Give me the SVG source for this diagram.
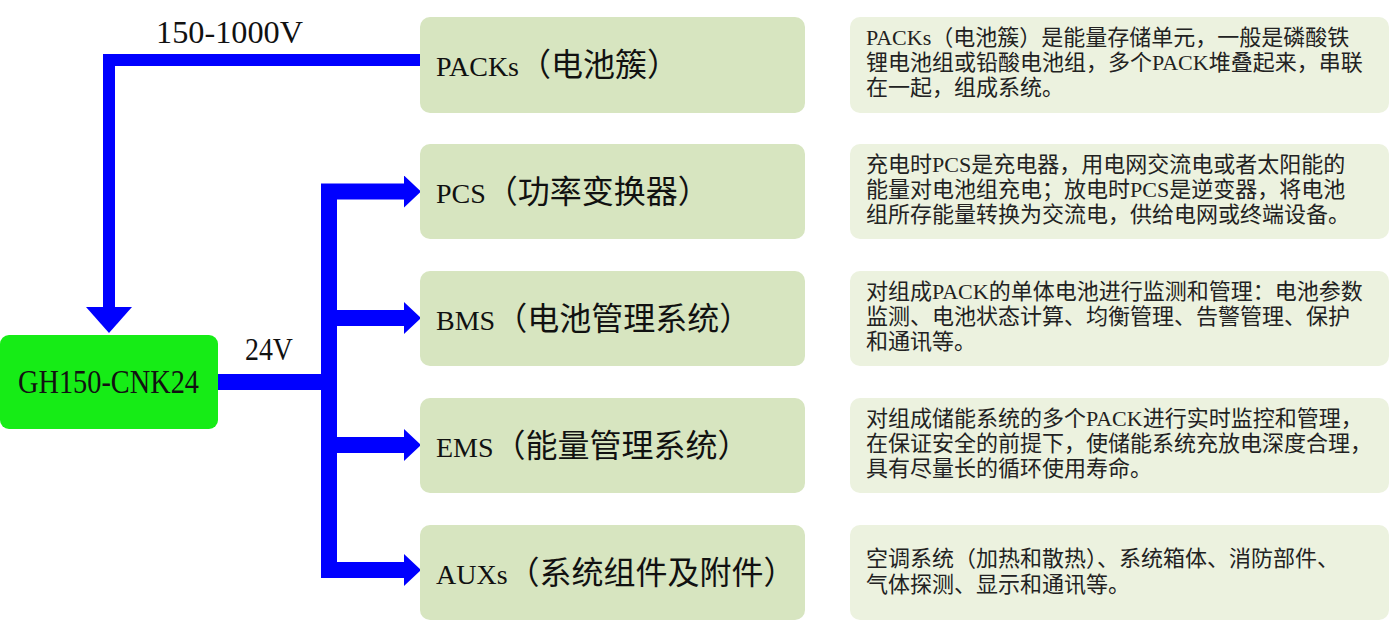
<svg xmlns="http://www.w3.org/2000/svg" width="1392" height="620" viewBox="0 0 1392 620">
<style>
  .lat { font-family: "Liberation Serif", "Noto Sans CJK SC", serif; fill: #111; }
  .mid { font-family: "Liberation Serif", "Noto Sans CJK SC", serif; font-size: 32px; fill: #111; }
  .ml { font-size: 28px; }
  .desc { font-family: "Liberation Serif", "Noto Sans CJK SC", serif; font-size: 22px; fill: #222; }
  .mbox { fill: #d7e5c0; }
  .dbox { fill: #ecf2df; }
  .wire { fill: none; stroke: #0000ff; stroke-linejoin: miter; stroke-linecap: butt; }
</style>
<defs>
  <marker id="arrR" markerUnits="userSpaceOnUse" viewBox="0 0 17 32" refX="0" refY="16" markerWidth="17" markerHeight="32" orient="auto">
    <path d="M0,0 L17,16 L0,32 Z" fill="#0000ff"/>
  </marker>
  <marker id="arrD" markerUnits="userSpaceOnUse" viewBox="0 0 26 46" refX="0" refY="23" markerWidth="26" markerHeight="46" orient="auto">
    <path d="M0,0 L26,23 L0,46 Z" fill="#0000ff"/>
  </marker>
</defs>

<g id="connectors">
  <path class="wire" stroke-width="12" d="M420,60 H109 V307" marker-end="url(#arrD)"/>
  <path class="wire" stroke-width="16" d="M218,382 H329"/>
  <path class="wire" stroke-width="16" d="M329,570 V191.5 H404" marker-end="url(#arrR)"/>
  <path class="wire" stroke-width="16" d="M329,200 V570 H404" marker-end="url(#arrR)"/>
  <path class="wire" stroke-width="16" d="M329,318 H404" marker-end="url(#arrR)"/>
  <path class="wire" stroke-width="16" d="M329,445 H404" marker-end="url(#arrR)"/>
  <text class="lat" x="156" y="43" font-size="32" textLength="147" lengthAdjust="spacingAndGlyphs">150-1000V</text>
  <text class="lat" x="245" y="360" font-size="32" textLength="48" lengthAdjust="spacingAndGlyphs">24V</text>
</g>

<g id="gh150">
  <rect x="0" y="335" width="218" height="94" rx="9" fill="#16ec16"/>
  <text class="lat" x="18" y="393" font-size="33" textLength="181" lengthAdjust="spacingAndGlyphs">GH150-CNK24</text>
</g>

<g id="packs">
  <rect class="mbox" x="420" y="17" width="385" height="96" rx="10"/>
  <text class="mid" x="436" y="76"><tspan class="ml">PACKs</tspan>（电池簇）</text>
</g>
<g id="pcs">
  <rect class="mbox" x="420" y="144" width="385" height="95" rx="10"/>
  <text class="mid" x="436" y="203"><tspan class="ml">PCS</tspan>（功率变换器）</text>
</g>
<g id="bms">
  <rect class="mbox" x="420" y="271" width="385" height="95" rx="10"/>
  <text class="mid" x="436" y="330"><tspan class="ml">BMS</tspan>（电池管理系统）</text>
</g>
<g id="ems">
  <rect class="mbox" x="420" y="398" width="385" height="95" rx="10"/>
  <text class="mid" x="436" y="457"><tspan class="ml">EMS</tspan>（能量管理系统）</text>
</g>
<g id="auxs">
  <rect class="mbox" x="420" y="525" width="385" height="95" rx="10"/>
  <text class="mid" x="436" y="584"><tspan class="ml">AUXs</tspan>（系统组件及附件）</text>
</g>

<g id="desc-packs">
  <rect class="dbox" x="850" y="17" width="539" height="96" rx="10"/>
  <text class="desc" x="866" y="45">PACKs（电池簇）是能量存储单元，一般是磷酸铁<tspan x="866" dy="25">锂电池组或铅酸电池组，多个PACK堆叠起来，串联</tspan><tspan x="866" dy="25">在一起，组成系统。</tspan></text>
</g>
<g id="desc-pcs">
  <rect class="dbox" x="850" y="144" width="539" height="95" rx="10"/>
  <text class="desc" x="866" y="172">充电时PCS是充电器，用电网交流电或者太阳能的<tspan x="866" dy="25">能量对电池组充电；放电时PCS是逆变器，将电池</tspan><tspan x="866" dy="25">组所存能量转换为交流电，供给电网或终端设备。</tspan></text>
</g>
<g id="desc-bms">
  <rect class="dbox" x="850" y="271" width="539" height="95" rx="10"/>
  <text class="desc" x="866" y="299">对组成PACK的单体电池进行监测和管理：电池参数<tspan x="866" dy="25">监测、电池状态计算、均衡管理、告警管理、保护</tspan><tspan x="866" dy="25">和通讯等。</tspan></text>
</g>
<g id="desc-ems">
  <rect class="dbox" x="850" y="398" width="539" height="95" rx="10"/>
  <text class="desc" x="866" y="426">对组成储能系统的多个PACK进行实时监控和管理，<tspan x="866" dy="25">在保证安全的前提下，使储能系统充放电深度合理，</tspan><tspan x="866" dy="25">具有尽量长的循环使用寿命。</tspan></text>
</g>
<g id="desc-auxs">
  <rect class="dbox" x="850" y="525" width="539" height="95" rx="10"/>
  <text class="desc" x="866" y="566">空调系统（加热和散热）、系统箱体、消防部件、<tspan x="866" dy="26">气体探测、显示和通讯等。</tspan></text>
</g>
</svg>
